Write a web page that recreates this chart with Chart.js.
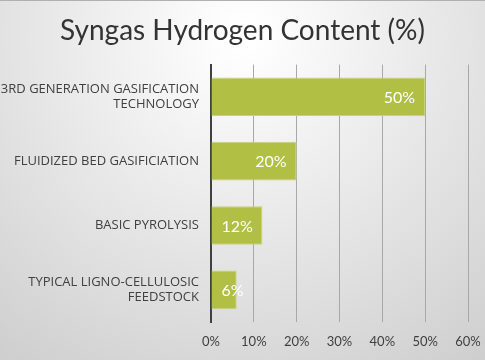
<!DOCTYPE html>
<html>
<head>
<meta charset="utf-8">
<script src="https://cdn.jsdelivr.net/npm/chart.js@4"></script>
<style>
  html, body { margin: 0; padding: 0; background: #e6e6e6; }
  #wrap { width: 485px; height: 360px; }
</style>
</head>
<body>
<div id="wrap"><canvas id="chart"></canvas></div>
<script>
// values
var categories = [
    ['3RD GENERATION GASIFICATION', 'TECHNOLOGY'],
    'FLUIDIZED BED GASIFICIATION',
    'BASIC PYROLYSIS',
    ['TYPICAL LIGNO-CELLULOSIC', 'FEEDSTOCK']
];
var hydrogen = [50, 20, 12, 6];
var tickMax = 60;

// slide-like background, light in the middle going grey at the edges
var backdrop = {
    id: 'backdrop',
    beforeDraw: function (chart) {
        var ctx = chart.ctx;
        var w = chart.width, h = chart.height;
        ctx.save();
        var g = ctx.createRadialGradient(w * 0.5, h * 0.1, 10, w * 0.5, h * 0.1, w * 0.85);
        g.addColorStop(0, '#ffffff');
        g.addColorStop(1, '#cdcdcd');
        ctx.fillStyle = g;
        ctx.fillRect(0, 0, w, h);
        ctx.fillStyle = '#b0b0b0';
        ctx.fillRect(0, 0, w, 1);
        ctx.restore();
    }
};

// value labels inside the bar ends
var barLabels = {
    id: 'barLabels',
    afterDatasetsDraw: function (chart) {
        var ctx = chart.ctx;
        var meta = chart.getDatasetMeta(0);
        ctx.save();
        ctx.font = '16px Lato, "Open Sans", sans-serif';
        ctx.fillStyle = '#ffffff';
        ctx.textBaseline = 'middle';
        ctx.textAlign = 'left';
        meta.data.forEach(function (bar, i) {
            var txt = hydrogen[i] + '%';
            var tw = ctx.measureText(txt).width;
            var x = Math.max(bar.x - 10 - tw, bar.base + 10);
            ctx.fillText(txt, x, bar.y + 1);
        });
        ctx.restore();
    }
};

new Chart(document.getElementById('chart'), {
    type: 'bar',
    data: {
        labels: categories,
        datasets: [{
            data: hydrogen,
            backgroundColor: '#b2bf45',
            borderColor: '#c7d27a',
            borderWidth: 1,
            categoryPercentage: 0.6,
            barPercentage: 1
        }]
    },
    options: {
        indexAxis: 'y',
        responsive: true,
        maintainAspectRatio: false,
        animation: false,
        layout: { padding: 0 },
        plugins: {
            legend: { display: false },
            tooltip: { enabled: false },
            title: {
                display: true,
                text: 'Syngas Hydrogen Content (%)',
                color: '#333333',
                font: { family: 'Lato, "Open Sans", sans-serif', size: 28, weight: 'normal' },
                padding: { top: 14, bottom: 17 }
            }
        },
        scales: {
            x: {
                min: 0,
                max: tickMax,
                ticks: {
                    stepSize: 10,
                    padding: 12,
                    color: '#404040',
                    font: { family: 'Lato, sans-serif', size: 13 },
                    callback: function (v) { return v + '%'; }
                },
                grid: { color: '#a8a8a8', lineWidth: 1, drawTicks: false },
                border: { display: false },
                afterFit: function (scale) {
                    scale.height = 38;
                    scale.paddingRight = 17;
                }
            },
            y: {
                ticks: {
                    color: '#404040',
                    padding: 12,
                    font: { family: '"Open Sans", sans-serif', size: 13 }
                },
                grid: { display: false, drawTicks: false },
                border: { display: true, color: '#404040', width: 2 },
                afterFit: function (scale) { scale.width = 211; }
            }
        }
    },
    plugins: [backdrop, barLabels]
});
</script>
</body>
</html>
